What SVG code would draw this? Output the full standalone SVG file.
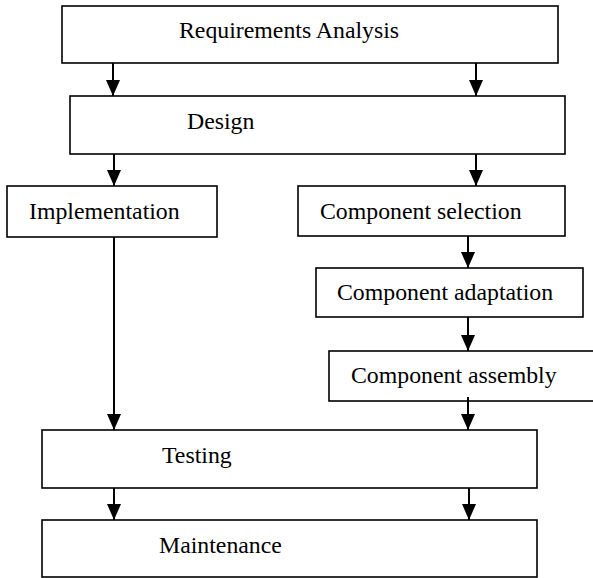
<svg xmlns="http://www.w3.org/2000/svg" width="593" height="578" viewBox="0 0 593 578">
  <style>
    .box { fill: #ffffff; stroke: #000000; stroke-width: 1.6; }
    .edge { stroke: #000000; stroke-width: 2; fill: none; marker-end: url(#head); }
  </style>
  <defs>
    <marker id="head" markerUnits="userSpaceOnUse" markerWidth="16" markerHeight="14" refX="16" refY="7" orient="auto">
      <path d="M0,0 L16,7 L0,14 Z" fill="#000000"/>
    </marker>
  </defs>
  <rect width="593" height="578" fill="#ffffff"/>

  <g font-family="Liberation Serif, Times New Roman, serif" font-size="23.8" fill="#000000">
    <g id="requirements">
      <rect class="box" x="62" y="6" width="496" height="57"/>
      <text x="179" y="38">Requirements Analysis</text>
    </g>
    <g id="design">
      <rect class="box" x="70" y="96" width="495" height="58"/>
      <text x="187" y="129">Design</text>
    </g>
    <g id="implementation">
      <rect class="box" x="7" y="186" width="210" height="51"/>
      <text x="29" y="219">Implementation</text>
    </g>
    <g id="component-selection">
      <rect class="box" x="298" y="186" width="267" height="50"/>
      <text x="320" y="219">Component selection</text>
    </g>
    <g id="component-adaptation">
      <rect class="box" x="316" y="268" width="267" height="49"/>
      <text x="337" y="300">Component adaptation</text>
    </g>
    <g id="component-assembly">
      <rect class="box" x="329" y="351" width="280" height="50"/>
      <text x="351" y="383">Component assembly</text>
    </g>
    <g id="testing">
      <rect class="box" x="42" y="430" width="495" height="58"/>
      <text x="162" y="463">Testing</text>
    </g>
    <g id="maintenance">
      <rect class="box" x="42" y="520" width="495" height="57"/>
      <text x="159" y="553">Maintenance</text>
    </g>
  </g>

  <g id="connectors">
    <line class="edge" x1="113" y1="63" x2="113" y2="96"/>
    <line class="edge" x1="476" y1="63" x2="476" y2="96"/>
    <line class="edge" x1="114" y1="154" x2="114" y2="186"/>
    <line class="edge" x1="476" y1="154" x2="476" y2="186"/>
    <line class="edge" x1="468" y1="236" x2="468" y2="268"/>
    <line class="edge" x1="468" y1="317" x2="468" y2="351"/>
    <line class="edge" x1="114" y1="237" x2="114" y2="430"/>
    <line class="edge" x1="468" y1="397" x2="468" y2="430"/>
    <line class="edge" x1="114" y1="488" x2="114" y2="520"/>
    <line class="edge" x1="469" y1="488" x2="469" y2="520"/>
  </g>
</svg>
